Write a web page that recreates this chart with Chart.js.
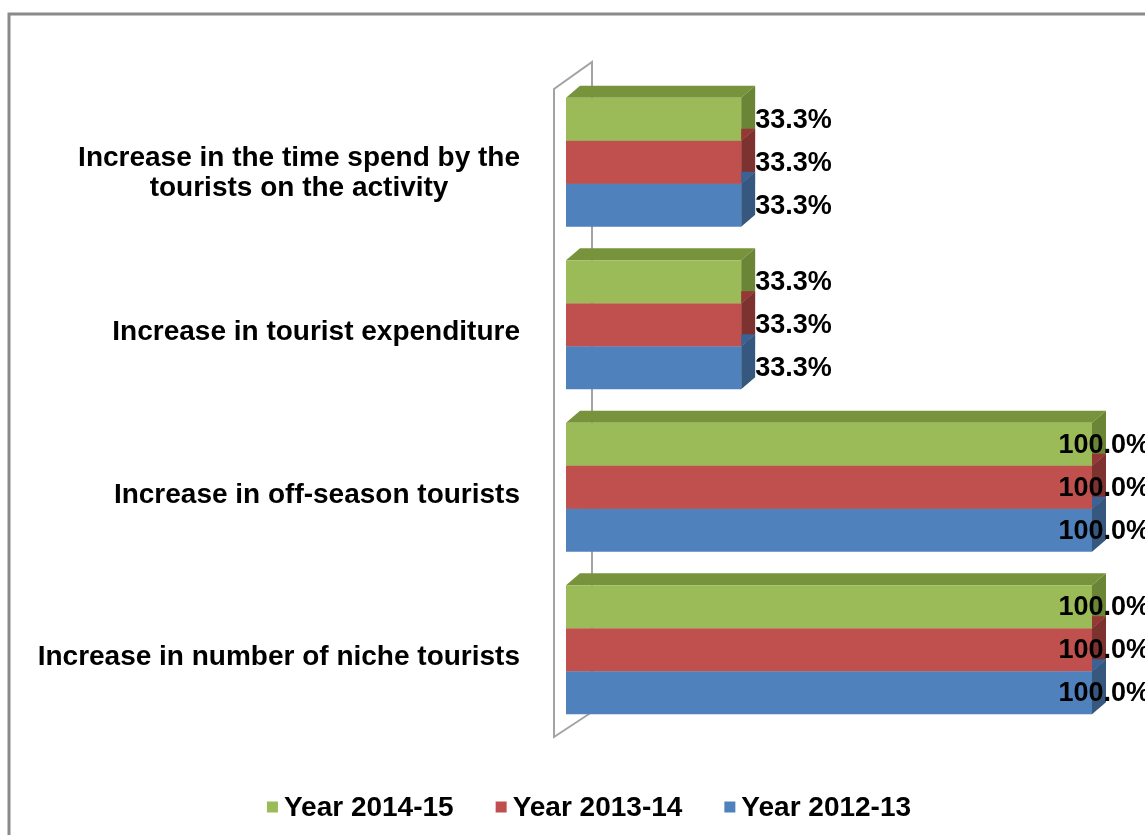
<!DOCTYPE html>
<html>
<head>
<meta charset="utf-8">
<script src="https://cdn.jsdelivr.net/npm/chart.js@4.4.1/dist/chart.umd.min.js"></script>
<style>
  html, body { margin: 0; padding: 0; background: #ffffff; }
  #wrap { position: relative; width: 1145px; height: 835px; }
</style>
</head>
<body>
<div id="wrap"><canvas id="c" width="1145" height="835"></canvas></div>
<script>
// Categories (top to bottom) and the three yearly series
const categories = [
  ["Increase in the time spend by the", "tourists on the activity"],
  "Increase in tourist expenditure",
  "Increase in off-season tourists",
  "Increase in number of niche tourists"
];
const seriesNames = ["Year 2014-15", "Year 2013-14", "Year 2012-13"];
const year2014_15 = [33.3, 33.3, 100.0, 100.0];
const year2013_14 = [33.3, 33.3, 100.0, 100.0];
const year2012_13 = [33.3, 33.3, 100.0, 100.0];

// Face colours for the extruded bars: front, top, right side
const faces = [
  { front: "#9BBB59", top: "#77933C", side: "#6A8535" },
  { front: "#C0504D", top: "#953735", side: "#7E3230" },
  { front: "#4F81BD", top: "#3A6294", side: "#36587F" }
];

const DEPTH_X = 14, DEPTH_Y = 12;
const FONT = "bold 28px 'Liberation Sans', Arial, sans-serif";
const VALUE_FONT = "bold 27px 'Liberation Sans', Arial, sans-serif";

// Outer frame, side wall and 3D faces drawn behind the front faces
const depthPlugin = {
  id: "depth3d",
  beforeDatasetsDraw(chart) {
    const ctx = chart.ctx;
    const a = chart.chartArea;
    ctx.save();
    // frame
    ctx.strokeStyle = "#8a8a8a";
    ctx.lineWidth = 3;
    ctx.beginPath();
    ctx.moveTo(9, chart.height + 2);
    ctx.lineTo(9, 14);
    ctx.lineTo(chart.width + 2, 14);
    ctx.stroke();
    // side wall of the category axis
    const fx = a.left - 12, bx = a.left + 26;
    ctx.strokeStyle = "#a3a3a3";
    ctx.lineWidth = 2;
    ctx.beginPath();
    ctx.moveTo(bx, a.bottom - 19);
    ctx.lineTo(bx, a.top - 19);
    ctx.lineTo(fx, a.top + 8);
    ctx.lineTo(fx, a.bottom + 6);
    ctx.lineTo(bx, a.bottom - 19);
    ctx.stroke();
    // top and side faces
    chart.data.datasets.forEach((ds, di) => {
      const meta = chart.getDatasetMeta(di);
      const f = faces[di];
      meta.data.forEach(el => {
        const p = el.getProps(["x", "y", "base", "height"], true);
        const t = p.y - p.height / 2, b = p.y + p.height / 2;
        ctx.fillStyle = f.top;
        ctx.beginPath();
        ctx.moveTo(p.base, t);
        ctx.lineTo(p.base + DEPTH_X, t - DEPTH_Y);
        ctx.lineTo(p.x + DEPTH_X, t - DEPTH_Y);
        ctx.lineTo(p.x, t);
        ctx.closePath();
        ctx.fill();
        ctx.fillStyle = f.side;
        ctx.beginPath();
        ctx.moveTo(p.x, t);
        ctx.lineTo(p.x + DEPTH_X, t - DEPTH_Y);
        ctx.lineTo(p.x + DEPTH_X, b - DEPTH_Y);
        ctx.lineTo(p.x, b);
        ctx.closePath();
        ctx.fill();
      });
    });
    ctx.restore();
  },
  afterDatasetsDraw(chart) {
    // value labels beside each bar
    const ctx = chart.ctx;
    ctx.save();
    ctx.font = VALUE_FONT;
    ctx.fillStyle = "#000000";
    ctx.textAlign = "left";
    ctx.textBaseline = "middle";
    chart.data.datasets.forEach((ds, di) => {
      const meta = chart.getDatasetMeta(di);
      meta.data.forEach((el, i) => {
        const txt = ds.data[i].toFixed(1) + "%";
        const w = ctx.measureText(txt).width;
        const p = el.getProps(["x", "y"], true);
        const x = Math.min(p.x + DEPTH_X, chart.width - w + 5);
        ctx.fillText(txt, x, p.y + 1);
      });
    });
    ctx.restore();
  },
  afterDraw(chart) {
    const ctx = chart.ctx;
    const yScale = chart.scales.y;
    ctx.save();
    ctx.font = FONT;
    ctx.fillStyle = "#000000";
    ctx.textBaseline = "middle";
    ctx.textAlign = "center";
    // category labels, right edge of each block at the axis wall
    const right = 520, lineH = 30;
    chart.data.labels.forEach((lab, i) => {
      const lines = Array.isArray(lab) ? lab : [lab];
      const bw = Math.max(...lines.map(l => ctx.measureText(l).width));
      const cx = right - bw / 2;
      const cy = yScale.getPixelForValue(i) + (lines.length > 1 ? 11 : 8);
      lines.forEach((l, k) => {
        ctx.fillText(l, cx, cy + (k - (lines.length - 1) / 2) * lineH);
      });
    });
    // legend along the bottom
    const box = 11, gap = 6, spacing = 42, ly = 807;
    const items = chart.data.datasets.map(ds => ({
      text: ds.label, color: ds.backgroundColor, w: ctx.measureText(ds.label).width
    }));
    const total = items.reduce((s, it) => s + box + gap + it.w, 0) + spacing * (items.length - 1);
    let x = 589 - total / 2;
    ctx.textAlign = "left";
    items.forEach(it => {
      ctx.fillStyle = it.color;
      ctx.fillRect(x, ly - box / 2, box, box);
      ctx.fillStyle = "#000000";
      ctx.fillText(it.text, x + box + gap, ly + 1);
      x += box + gap + it.w + spacing;
    });
    ctx.restore();
  }
};

const seriesValues = [year2014_15, year2013_14, year2012_13];

new Chart(document.getElementById("c"), {
  type: "bar",
  data: {
    labels: categories,
    datasets: seriesNames.map((name, i) => ({
      label: name,
      data: seriesValues[i],
      backgroundColor: faces[i].front,
      borderWidth: 0,
      barPercentage: 1.0,
      categoryPercentage: 0.794
    }))
  },
  options: {
    indexAxis: "y",
    responsive: false,
    animation: false,
    devicePixelRatio: 1,
    layout: { padding: { left: 566, right: 53, top: 81, bottom: 104 } },
    scales: {
      x: { display: false, min: 0, max: 100 },
      y: { display: false }
    },
    plugins: {
      legend: { display: false },
      tooltip: { enabled: false }
    }
  },
  plugins: [depthPlugin]
});
</script>
</body>
</html>
